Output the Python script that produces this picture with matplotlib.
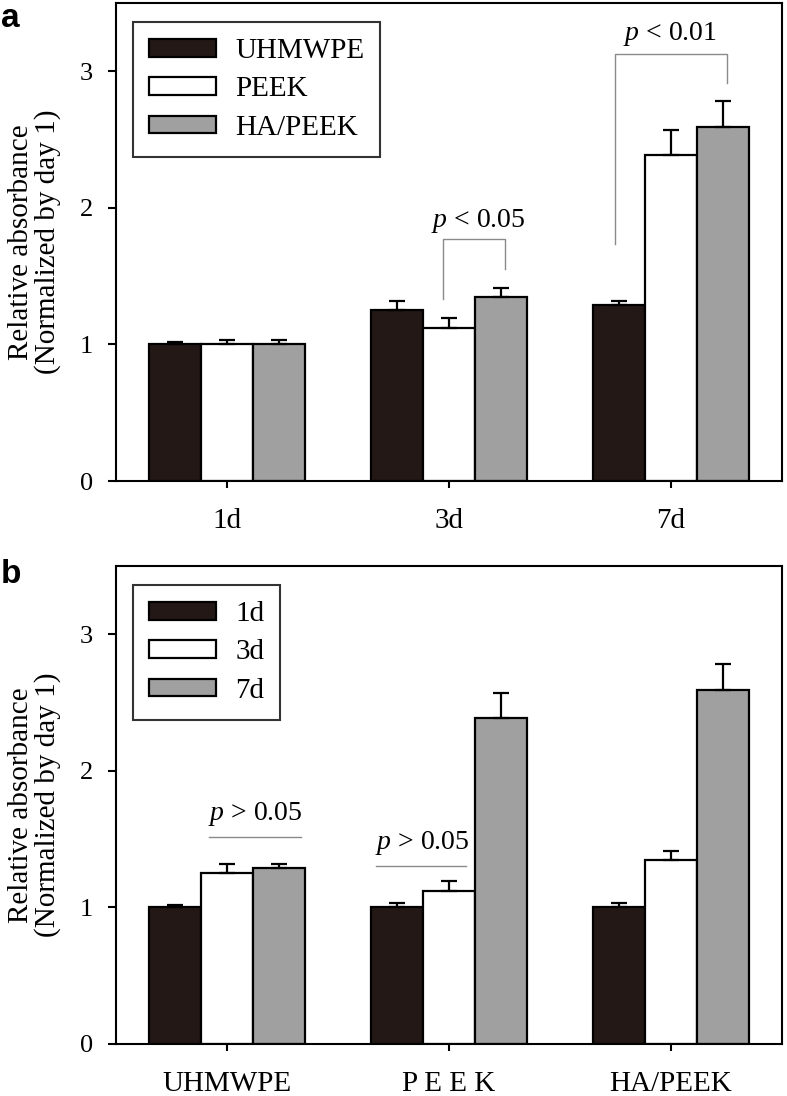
import matplotlib
matplotlib.use("Agg")
import matplotlib.pyplot as plt
import numpy as np

# ---- data ----
days = ["1d", "3d", "7d"]
materials = ["UHMWPE", "PEEK", "HA/PEEK"]
material_ticklabels = ["UHMWPE", "P E E K", "HA/PEEK"]
uhmwpe = [1.00, 1.25, 1.29]
uhmwpe_err = [0.02, 0.065, 0.025]
peek = [1.00, 1.12, 2.39]
peek_err = [0.035, 0.075, 0.18]
hapeek = [1.00, 1.35, 2.59]
hapeek_err = [0.03, 0.065, 0.19]
yticks = [0, 1, 2, 3]

colors = ["#231815", "#ffffff", "#a0a0a0"]
serif = "Liberation Serif"
plt.rcParams["font.family"] = serif
plt.rcParams["mathtext.fontset"] = "custom"
plt.rcParams["mathtext.it"] = "Liberation Serif:italic"
plt.rcParams["mathtext.rm"] = "Liberation Serif"

FS = 21

fig = plt.figure(figsize=(7.87, 10.96), dpi=100)
ax_a = fig.add_axes([116/787, 615/1096, 666/787, 478/1096])
ax_b = fig.add_axes([116/787, 52/1096, 666/787, 478/1096])

width = 0.234
x = np.arange(3)


def draw(ax, series, errs, labels, ticklabels):
    handles = []
    for i, (vals, err) in enumerate(zip(series, errs)):
        pos = x + (i - 1) * width
        b = ax.bar(pos, vals, width, color=colors[i], edgecolor="black",
                   linewidth=1.6, label=labels[i], zorder=2)
        ax.errorbar(pos, vals, yerr=[np.zeros(len(err)), err], fmt="none",
                    ecolor="black", elinewidth=1.6, capsize=5.8, capthick=1.6,
                    zorder=3)
        handles.append(b)
    ax.set_xlim(-0.5, 2.5)
    ax.set_ylim(0, 3.5)
    ax.set_xticks(x)
    ax.set_xticklabels(ticklabels, fontsize=FS)
    ax.set_yticks(yticks)
    ax.set_yticklabels([str(t) for t in yticks], fontsize=19)
    ax.tick_params(axis="x", direction="out", length=5.2, width=1.5, pad=14)
    ax.tick_params(axis="y", direction="out", length=5.8, width=1.5, pad=11)
    for s in ax.spines.values():
        s.set_linewidth(1.5)
    ax.set_ylabel("Relative absorbance\n(Normalized by day 1)", fontsize=FS,
                  linespacing=1.0)
    ax.yaxis.set_label_coords(-0.083, 0.5)
    leg = ax.legend(handles=handles, loc="upper left",
                    bbox_to_anchor=(0.0255, 0.96), borderaxespad=0,
                    fontsize=FS, frameon=True, fancybox=False,
                    edgecolor="black", handlelength=2.3, handleheight=0.55,
                    labelspacing=0.42, borderpad=0.55, handletextpad=0.65)
    leg.get_frame().set_linewidth(1.5)
    return ax


# panel a: groups = days, series = materials
draw(ax_a, [uhmwpe, peek, hapeek], [uhmwpe_err, peek_err, hapeek_err],
     materials, days)

# panel b: groups = materials, series = days
by_day = [[s[d] for s in (uhmwpe, peek, hapeek)] for d in range(3)]
by_day_err = [[s[d] for s in (uhmwpe_err, peek_err, hapeek_err)] for d in range(3)]
draw(ax_b, by_day, by_day_err, days, material_ticklabels)

gray = "#8a8a8a"
# panel a brackets
ax_a.plot([0.973, 0.973, 1.252, 1.252],
          [1.33, 1.775, 1.775, 1.55], color=gray, lw=1.0, zorder=1)
ax_a.text(1.13, 1.905, r"$\it{p}$ < 0.05", ha="center", va="center", fontsize=20)
ax_a.plot([1.748, 1.748, 2.252, 2.252],
          [1.735, 3.125, 3.125, 2.915], color=gray, lw=1.0, zorder=1)
ax_a.text(1.995, 3.27, r"$\it{p}$ < 0.01", ha="center", va="center", fontsize=20)

# panel b lines
ax_b.plot([-0.081, 0.333], [1.513, 1.513], color=gray, lw=1.0)
ax_b.text(0.126, 1.686, r"$\it{p}$ > 0.05", ha="center", va="center", fontsize=20)
ax_b.plot([0.671, 1.077], [1.307, 1.307], color=gray, lw=1.0)
ax_b.text(0.878, 1.474, r"$\it{p}$ > 0.05", ha="center", va="center", fontsize=20)

fig.text(1/787, 1 - 3/1096, "a", fontsize=24, fontweight="bold",
         family="Liberation Sans", ha="left", va="top")
fig.text(1/787, 1 - 559/1096, "b", fontsize=24, fontweight="bold",
         family="Liberation Sans", ha="left", va="top")

fig.savefig("out.png", dpi=100)
